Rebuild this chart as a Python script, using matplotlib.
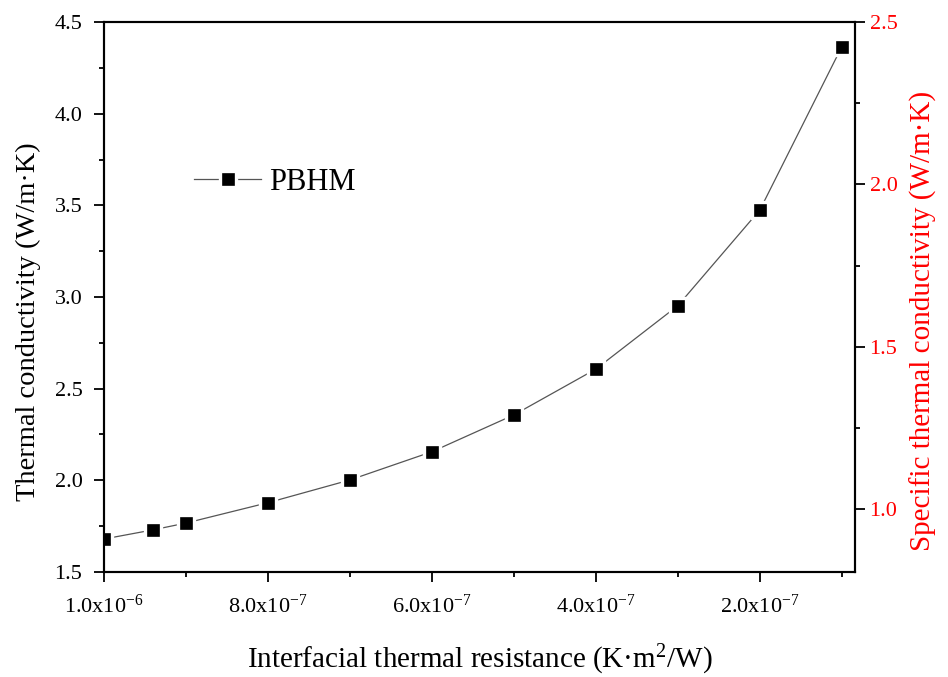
import matplotlib
matplotlib.use("Agg")
import matplotlib.pyplot as plt
from matplotlib.ticker import MultipleLocator, FixedLocator, FormatStrFormatter

plt.rcParams['font.family'] = ['Liberation Serif', 'DejaVu Serif']
plt.rcParams['mathtext.fontset'] = 'custom'
plt.rcParams['mathtext.rm'] = 'Liberation Serif'
plt.rcParams['mathtext.it'] = 'Liberation Serif:italic'
plt.rcParams['mathtext.default'] = 'regular'

# Data
resistance = [1.0e-6, 9.4e-7, 9.0e-7, 8.0e-7, 7.0e-7, 6.0e-7, 5.0e-7, 4.0e-7, 3.0e-7, 2.0e-7, 1.0e-7]
conductivity = [1.68, 1.73, 1.767, 1.878, 2.002, 2.156, 2.357, 2.607, 2.953, 3.475, 4.366]
xtick_vals = [1.0e-6, 8.0e-7, 6.0e-7, 4.0e-7, 2.0e-7]
xtick_labels = [r"1.0x10$^{-6}$", r"8.0x10$^{-7}$", r"6.0x10$^{-7}$", r"4.0x10$^{-7}$", r"2.0x10$^{-7}$"]
series_name = "PBHM"

fig = plt.figure(figsize=(9.48, 6.77), dpi=100)
ax = fig.add_axes([0.1097, 0.1551, 0.7922, 0.8124])

ax.plot(resistance, conductivity, color='#555555', lw=0.9, marker='s',
        markersize=12, markerfacecolor='black', markeredgecolor='white',
        markeredgewidth=2.4, label=series_name, zorder=3)

ax.set_xlim(1.0e-6, 0.84e-7)
ax.set_ylim(1.5, 4.5)
ax.xaxis.set_major_locator(FixedLocator(xtick_vals))
ax.set_xticklabels(xtick_labels)
ax.xaxis.set_minor_locator(MultipleLocator(1e-7))
ax.yaxis.set_major_locator(MultipleLocator(0.5))
ax.yaxis.set_minor_locator(MultipleLocator(0.25))
ax.yaxis.set_major_formatter(FormatStrFormatter('%.1f'))

for s in ax.spines.values():
    s.set_linewidth(1.5)
ax.tick_params(which='major', direction='out', length=7.5, width=1.3, labelsize=16)
ax.tick_params(which='minor', direction='out', length=3.5, width=1.3)
ax.tick_params(axis='x', which='both', top=False)
ax.tick_params(axis='y', which='both', right=False)
ax.tick_params(axis='x', which='major', pad=9)
ax.tick_params(axis='y', which='major', pad=8)

ax.set_xlabel(r"Interfacial thermal resistance (K·m$^{2}$/W)", fontsize=21, labelpad=18)
ax.set_ylabel("Thermal conductivity (W/m·K)", fontsize=20.5)
ax.yaxis.set_label_coords(-0.084, 0.456)

ax2 = ax.twinx()
ax2.set_ylim(0.806, 2.5)
ax2.yaxis.set_major_locator(MultipleLocator(0.5))
ax2.yaxis.set_minor_locator(MultipleLocator(0.25))
ax2.yaxis.set_major_formatter(FormatStrFormatter('%.1f'))
ax2.tick_params(which='major', direction='out', length=7.5, width=1.3, labelsize=16,
                labelcolor='red', pad=3)
ax2.tick_params(which='minor', direction='out', length=3.5, width=1.3)
for s in ax2.spines.values():
    s.set_linewidth(1.5)
ax2.set_ylabel("Specific thermal conductivity (W/m·K)", fontsize=21, color='red')
ax2.yaxis.set_label_coords(1.073, 0.456)

leg = ax.legend(loc='center left', bbox_to_anchor=(0.12, 0.709), frameon=False,
                fontsize=22, handlelength=2.2, handletextpad=0.25,
                borderpad=0, borderaxespad=0)

fig.savefig("out.png", dpi=100)
